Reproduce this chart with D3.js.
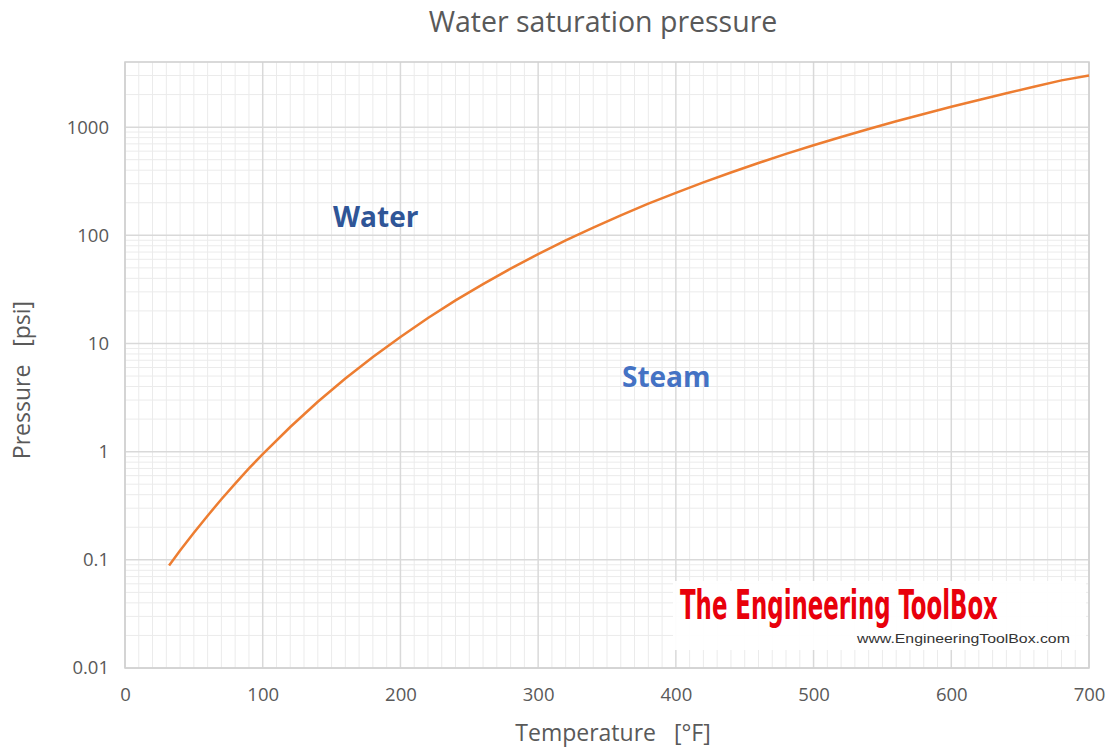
<!DOCTYPE html>
<html>
<head>
<meta charset="utf-8">
<script src="https://cdn.jsdelivr.net/npm/d3@7"></script>
<style>
  body { margin: 0; background: #fff; }
  text { font-family: "Open Sans", sans-serif; }
</style>
</head>
<body>
<div id="chart"></div>
<script>

// Data: saturation temperature [°F] and pressure [psi]
var tempF = [32, 40, 50, 60, 70, 80, 90, 100, 120, 140, 160, 180, 200, 220, 240, 260, 280,
             300, 320, 340, 360, 380, 400, 420, 440, 460, 480, 500, 520, 540, 560, 580,
             600, 620, 640, 660, 680, 700];
var pressPsi = [0.0887, 0.122, 0.178, 0.256, 0.363, 0.507, 0.699, 0.950, 1.69, 2.89, 4.74,
                7.51, 11.5, 17.2, 25.0, 35.4, 49.2, 67.0, 89.7, 118, 153, 196, 247, 308,
                381, 466, 566, 680, 811, 962, 1132, 1324, 1541, 1784, 2057, 2362, 2705, 3000];
var xTicks = [0, 100, 200, 300, 400, 500, 600, 700];
var yTicks = [0.01, 0.1, 1, 10, 100, 1000];

var data = tempF.map(function(t, i) { return { t: t, p: pressPsi[i] }; });


// --> CREATE SVG DRAWING AREA
var width = 1109,
    height = 748;

var svg = d3.select("#chart").append("svg")
    .attr("width", width)
    .attr("height", height);

var x = d3.scaleLinear()
    .domain([0, 700])
    .range([125, 1089]);

var y = d3.scaleLog()
    .domain([0.01, 4000])
    .range([668, 62]);


// Minor gridlines
var minorX = d3.range(0, 701, 10).filter(function(d) { return d % 100 !== 0; });
var minorY = [];
yTicks.forEach(function(d) {
    for (var k = 2; k <= 9; k++) {
        if (d * k <= 4000) minorY.push(d * k);
    }
});

svg.append("g").selectAll("line")
    .data(minorX)
    .enter().append("line")
    .attr("x1", function(d) { return x(d); })
    .attr("x2", function(d) { return x(d); })
    .attr("y1", y.range()[0])
    .attr("y2", y.range()[1])
    .attr("stroke", "#ebebeb")
    .attr("stroke-width", 1);

svg.append("g").selectAll("line")
    .data(minorY)
    .enter().append("line")
    .attr("x1", x.range()[0])
    .attr("x2", x.range()[1])
    .attr("y1", function(d) { return y(d); })
    .attr("y2", function(d) { return y(d); })
    .attr("stroke", "#ebebeb")
    .attr("stroke-width", 1);

// Major gridlines
svg.append("g").selectAll("line")
    .data(xTicks)
    .enter().append("line")
    .attr("x1", function(d) { return x(d); })
    .attr("x2", function(d) { return x(d); })
    .attr("y1", y.range()[0])
    .attr("y2", y.range()[1])
    .attr("stroke", "#d9d9d9")
    .attr("stroke-width", 1.5);

svg.append("g").selectAll("line")
    .data(yTicks)
    .enter().append("line")
    .attr("x1", x.range()[0])
    .attr("x2", x.range()[1])
    .attr("y1", function(d) { return y(d); })
    .attr("y2", function(d) { return y(d); })
    .attr("stroke", "#d9d9d9")
    .attr("stroke-width", 1.5);

// Plot border
svg.append("rect")
    .attr("x", x.range()[0])
    .attr("y", y.range()[1])
    .attr("width", x.range()[1] - x.range()[0])
    .attr("height", y.range()[0] - y.range()[1])
    .attr("fill", "none")
    .attr("stroke", "#d0d0d0")
    .attr("stroke-width", 1.5);


// Axes (labels only)
var xAxis = d3.axisBottom(x).tickValues(xTicks).tickSize(0).tickPadding(20);
var yAxis = d3.axisLeft(y).tickValues(yTicks).tickSize(0).tickPadding(16)
    .tickFormat(function(d) { return d < 1 ? String(d) : d3.format("d")(d); });

var gx = svg.append("g")
    .attr("transform", "translate(0," + y.range()[0] + ")")
    .call(xAxis);
var gy = svg.append("g")
    .attr("transform", "translate(" + x.range()[0] + ",0)")
    .call(yAxis);

[gx, gy].forEach(function(g) {
    g.select(".domain").remove();
    g.selectAll("text")
        .style("font-family", "'Open Sans', sans-serif")
        .style("font-size", "18.5px")
        .attr("fill", "#595959");
});


// Logo box
svg.append("rect")
    .attr("x", 673)
    .attr("y", 581)
    .attr("width", 413)
    .attr("height", 69)
    .attr("fill", "#fff")
    .attr("opacity", 0.93);

var logo = svg.append("text")
    .style("font-family", "'Liberation Sans Narrow', 'DejaVu Sans Condensed', sans-serif")
    .style("font-weight", "bold")
    .style("font-size", "40px")
    .attr("fill", "#e8000b")
    .text("The Engineering ToolBox");
var logoW = logo.node().getComputedTextLength();
logo.attr("transform", "translate(680,619) scale(" + (318 / logoW) + ",1)");

var site = svg.append("text")
    .style("font-family", "'Liberation Sans', Arial, sans-serif")
    .style("font-size", "13.5px")
    .attr("fill", "#333")
    .text("www.EngineeringToolBox.com");
var siteW = site.node().getComputedTextLength();
site.attr("transform", "translate(857,643) scale(" + (213 / siteW) + ",1)");


// Saturation curve
var line = d3.line()
    .x(function(d) { return x(d.t); })
    .y(function(d) { return y(d.p); });

svg.append("path")
    .datum(data)
    .attr("d", line)
    .attr("fill", "none")
    .attr("stroke", "#ed7d31")
    .attr("stroke-width", 2.5);


// Region labels
svg.append("text")
    .attr("x", 333)
    .attr("y", 227)
    .style("font-size", "28px")
    .style("font-weight", "bold")
    .attr("fill", "#2f5597")
    .text("Water");

svg.append("text")
    .attr("x", 622)
    .attr("y", 387)
    .style("font-size", "28px")
    .style("font-weight", "bold")
    .attr("fill", "#4472c4")
    .text("Steam");


// Titles
svg.append("text")
    .attr("x", 603)
    .attr("y", 32)
    .attr("text-anchor", "middle")
    .style("font-size", "28.5px")
    .attr("fill", "#595959")
    .text("Water saturation pressure");

svg.append("text")
    .attr("x", 613)
    .attr("y", 741)
    .attr("text-anchor", "middle")
    .style("font-size", "23px")
    .style("white-space", "pre")
    .attr("fill", "#595959")
    .text("Temperature   [°F]");

svg.append("text")
    .attr("transform", "translate(30,380) rotate(-90)")
    .attr("text-anchor", "middle")
    .style("font-size", "23px")
    .style("white-space", "pre")
    .attr("fill", "#595959")
    .text("Pressure   [psi]");

</script>
</body>
</html>
